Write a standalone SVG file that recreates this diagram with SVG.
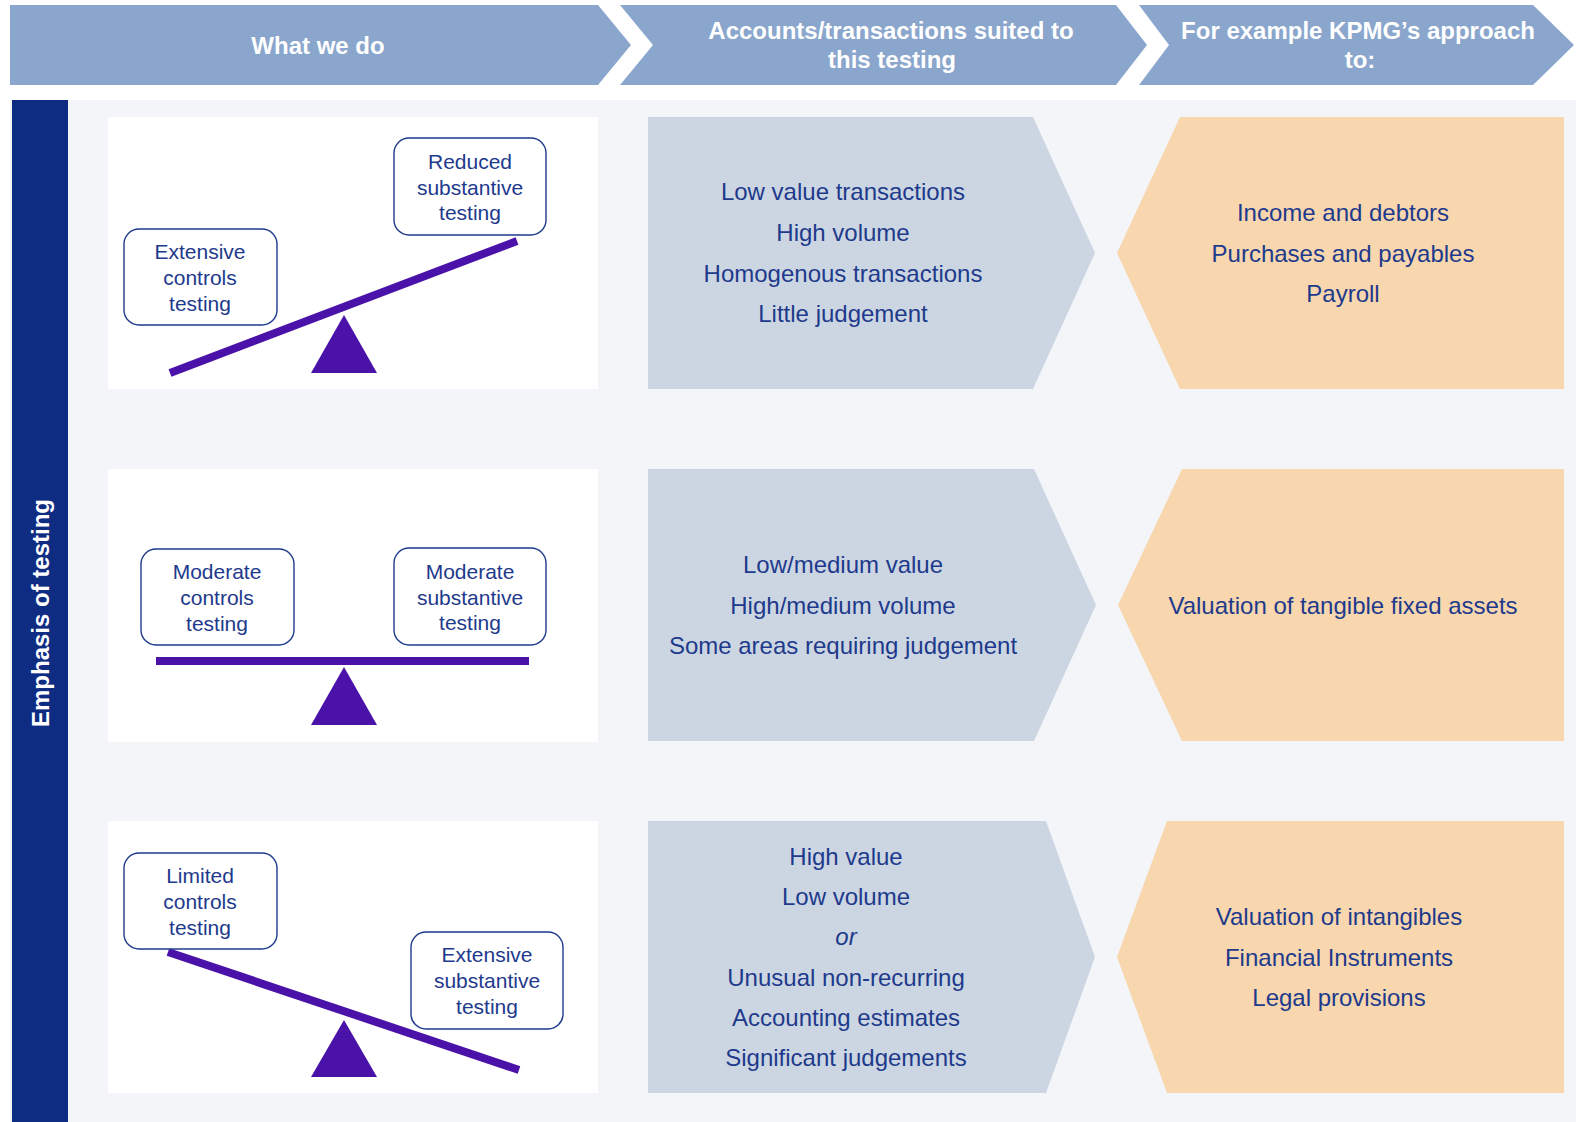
<svg xmlns="http://www.w3.org/2000/svg" width="1578" height="1122" viewBox="0 0 1578 1122">
<style>
.hdr{fill:#8AA6CC}
.htxt{font-family:"Liberation Sans",Arial,sans-serif;font-weight:bold;font-size:24px;fill:#ffffff;text-anchor:middle}
.panel{fill:#ffffff}
.mid{fill:#CCD6E2}
.ora{fill:#F8D6AE}
.txt{font-family:"Liberation Sans",Arial,sans-serif;font-size:24px;fill:#1E3A8C;text-anchor:middle}
.btxt{font-family:"Liberation Sans",Arial,sans-serif;font-size:21px;fill:#1E3A8C;text-anchor:middle}
.box{fill:#ffffff;stroke:#1E3A8C;stroke-width:1.4}
.beam{stroke:#4A12A8;stroke-width:8;stroke-linecap:butt;fill:none}
.pivot{fill:#4A12A8}
</style>
<rect x="0" y="0" width="1578" height="1122" fill="#ffffff"/>
<rect x="10" y="100" width="1566" height="1022" fill="#F3F5F9"/>

<g id="header">
  <polygon class="hdr" points="10,5 598,5 631,45 598,85 10,85"/>
  <polygon class="hdr" points="620,5 1116,5 1147,45 1116,85 620,85 653,45"/>
  <polygon class="hdr" points="1139,5 1533,5 1574,45 1533,85 1139,85 1169,45"/>
  <text class="htxt" x="318" y="54">What we do</text>
  <text class="htxt" x="891" y="39">Accounts/transactions suited to</text>
  <text class="htxt" x="892" y="68">this testing</text>
  <text class="htxt" x="1358" y="39">For example KPMG’s approach</text>
  <text class="htxt" x="1360" y="68">to:</text>
</g>

<g id="side-label">
  <rect x="12" y="100" width="56" height="1022" fill="#0F2C83"/>
  <text class="htxt" transform="translate(49,613) rotate(-90)" x="0" y="0">Emphasis of testing</text>
</g>

<g id="row1-seesaw">
  <rect class="panel" x="108" y="117" width="490" height="272"/>
  <line class="beam" x1="170" y1="373" x2="517" y2="241"/>
  <polygon class="pivot" points="344,315 377,373 311,373"/>
  <rect class="box" x="124" y="229" width="153" height="96" rx="15"/>
  <text class="btxt" x="200" y="259">Extensive</text>
  <text class="btxt" x="200" y="285">controls</text>
  <text class="btxt" x="200" y="311">testing</text>
  <rect class="box" x="394" y="138" width="152" height="97" rx="15"/>
  <text class="btxt" x="470" y="169">Reduced</text>
  <text class="btxt" x="470" y="195">substantive</text>
  <text class="btxt" x="470" y="220">testing</text>
</g>
<g id="row1-accounts">
  <polygon class="mid" points="648,117 1033,117 1095,253 1033,389 648,389"/>
  <text class="txt" x="843" y="200">Low value transactions</text>
  <text class="txt" x="843" y="241">High volume</text>
  <text class="txt" x="843" y="282">Homogenous transactions</text>
  <text class="txt" x="843" y="322">Little judgement</text>
</g>
<g id="row1-examples">
  <polygon class="ora" points="1180,117 1564,117 1564,389 1180,389 1117,253"/>
  <text class="txt" x="1343" y="221">Income and debtors</text>
  <text class="txt" x="1343" y="262">Purchases and payables</text>
  <text class="txt" x="1343" y="302">Payroll</text>
</g>

<g id="row2-seesaw">
  <rect class="panel" x="108" y="469" width="490" height="273"/>
  <line class="beam" x1="156" y1="661" x2="529" y2="661"/>
  <polygon class="pivot" points="344,667 377,725 311,725"/>
  <rect class="box" x="141" y="549" width="153" height="96" rx="15"/>
  <text class="btxt" x="217" y="579">Moderate</text>
  <text class="btxt" x="217" y="605">controls</text>
  <text class="btxt" x="217" y="631">testing</text>
  <rect class="box" x="394" y="548" width="152" height="97" rx="15"/>
  <text class="btxt" x="470" y="579">Moderate</text>
  <text class="btxt" x="470" y="605">substantive</text>
  <text class="btxt" x="470" y="630">testing</text>
</g>
<g id="row2-accounts">
  <polygon class="mid" points="648,469 1034,469 1096,605 1034,741 648,741"/>
  <text class="txt" x="843" y="573">Low/medium value</text>
  <text class="txt" x="843" y="614">High/medium volume</text>
  <text class="txt" x="843" y="654">Some areas requiring judgement</text>
</g>
<g id="row2-examples">
  <polygon class="ora" points="1182,469 1564,469 1564,741 1182,741 1118,605"/>
  <text class="txt" x="1343" y="614">Valuation of tangible fixed assets</text>
</g>

<g id="row3-seesaw">
  <rect class="panel" x="108" y="821" width="490" height="272"/>
  <line class="beam" x1="168" y1="952" x2="519" y2="1070"/>
  <polygon class="pivot" points="344,1020 377,1077 311,1077"/>
  <rect class="box" x="124" y="853" width="153" height="96" rx="15"/>
  <text class="btxt" x="200" y="883">Limited</text>
  <text class="btxt" x="200" y="909">controls</text>
  <text class="btxt" x="200" y="935">testing</text>
  <rect class="box" x="411" y="932" width="152" height="97" rx="15"/>
  <text class="btxt" x="487" y="962">Extensive</text>
  <text class="btxt" x="487" y="988">substantive</text>
  <text class="btxt" x="487" y="1014">testing</text>
</g>
<g id="row3-accounts">
  <polygon class="mid" points="648,821 1046,821 1095,957 1046,1093 648,1093"/>
  <text class="txt" x="846" y="865">High value</text>
  <text class="txt" x="846" y="905">Low volume</text>
  <text class="txt" x="846" y="945" font-style="italic">or</text>
  <text class="txt" x="846" y="986">Unusual non-recurring</text>
  <text class="txt" x="846" y="1026">Accounting estimates</text>
  <text class="txt" x="846" y="1066">Significant judgements</text>
</g>
<g id="row3-examples">
  <polygon class="ora" points="1167,821 1564,821 1564,1093 1167,1093 1117,957"/>
  <text class="txt" x="1339" y="925">Valuation of intangibles</text>
  <text class="txt" x="1339" y="966">Financial Instruments</text>
  <text class="txt" x="1339" y="1006">Legal provisions</text>
</g>

<g id="connectors"></g>
</svg>
